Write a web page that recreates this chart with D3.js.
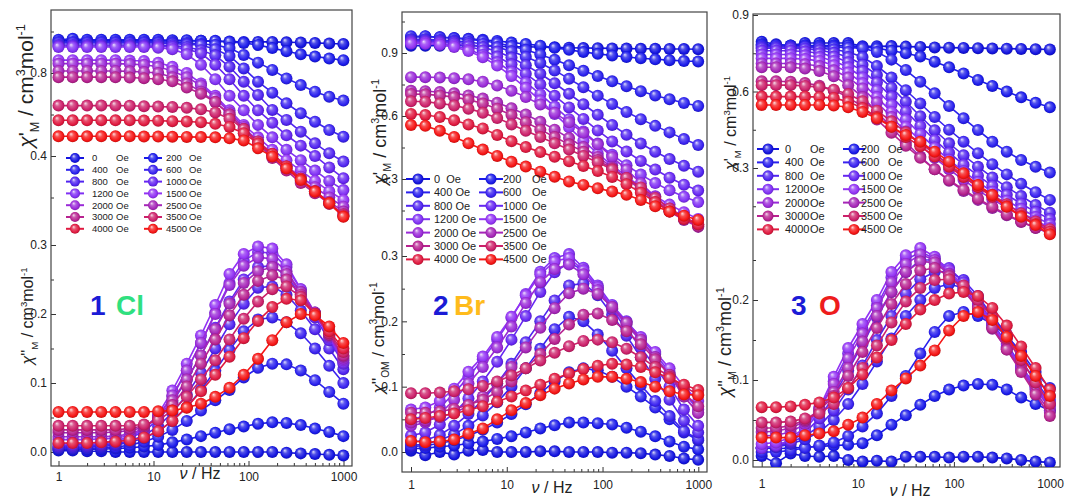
<!DOCTYPE html>
<html><head><meta charset="utf-8">
<script src="https://cdn.jsdelivr.net/npm/d3@7"></script>
<style>
body{margin:0;background:#fff}
svg{display:block}
text{font-family:"Liberation Sans",Arial,sans-serif}
</style>
</head><body>
<svg id="chart" width="1065" height="501"></svg>
<script>
// ---------------- DATA ----------------
const freq = [1, 1.41, 2, 2.82, 3.98, 5.62, 7.94, 11.2, 15.8, 22.4, 31.6, 44.7, 63.1, 89.1, 126, 178, 251, 355, 501, 708, 997];
const fields = [0, 200, 400, 600, 800, 1000, 1200, 1500, 2000, 2500, 3000, 3500, 4000, 4500];
const seriesColors = ["#1414e0","#1a1aea","#2a20ee","#3a22f0","#5024f0","#6626f2","#8030f4","#9232f4","#9a2ad8","#a626b8","#b82290","#cc206a","#e01a40","#f51515"];
const xTicks = [1, 10, 100, 1000];
const xMinorTicks = [2,3,4,5,6,7,8,9,20,30,40,50,60,70,80,90,200,300,400,500,600,700,800,900];
const clUpperTicks = [0.4, 0.8], clUpperMinor = [0.2, 0.6, 1.0];
const clLowerTicks = [0, 0.1, 0.2, 0.3], clLowerMinor = [0.05, 0.15, 0.25];
const brUpperTicks = [0.3, 0.6, 0.9], brUpperMinor = [0.15, 0.45, 0.75, 1.05];
const brLowerTicks = [0, 0.1, 0.2, 0.3], brLowerMinor = [0.05, 0.15, 0.25];
const oUpperTicks = [0.3, 0.6, 0.9], oUpperMinor = [0.15, 0.45, 0.75];
const oLowerTicks = [0, 0.1, 0.2], oLowerMinor = [0.05, 0.15, 0.25];

// Compound 1 (Cl): chi' (one row per field)
const clReal = [
 [0.955,0.96,0.955,0.955,0.955,0.955,0.955,0.955,0.955,0.955,0.955,0.952,0.952,0.95,0.95,0.95,0.948,0.947,0.945,0.942,0.94],
 [0.96,0.965,0.96,0.96,0.96,0.96,0.96,0.96,0.958,0.958,0.955,0.955,0.95,0.945,0.935,0.92,0.905,0.89,0.88,0.87,0.862],
 [0.95,0.95,0.95,0.95,0.95,0.95,0.95,0.95,0.948,0.945,0.94,0.935,0.92,0.887,0.85,0.815,0.774,0.742,0.71,0.686,0.667],
 [0.945,0.945,0.945,0.945,0.945,0.945,0.945,0.945,0.942,0.938,0.935,0.915,0.882,0.822,0.758,0.705,0.654,0.606,0.565,0.525,0.493],
 [0.935,0.935,0.935,0.935,0.935,0.935,0.935,0.935,0.932,0.925,0.91,0.885,0.83,0.758,0.694,0.622,0.574,0.517,0.461,0.413,0.373],
 [0.93,0.93,0.93,0.93,0.93,0.93,0.93,0.928,0.925,0.915,0.895,0.84,0.77,0.69,0.62,0.56,0.5,0.45,0.4,0.345,0.293],
 [0.925,0.925,0.925,0.925,0.925,0.925,0.925,0.922,0.915,0.89,0.84,0.77,0.69,0.62,0.55,0.49,0.43,0.38,0.33,0.28,0.236],
 [0.862,0.862,0.862,0.862,0.862,0.86,0.858,0.85,0.83,0.8,0.75,0.69,0.62,0.55,0.49,0.43,0.38,0.33,0.28,0.23,0.188],
 [0.845,0.845,0.845,0.845,0.845,0.843,0.84,0.83,0.81,0.78,0.74,0.68,0.61,0.54,0.47,0.41,0.35,0.3,0.25,0.2,0.156],
 [0.81,0.81,0.81,0.81,0.81,0.808,0.805,0.8,0.78,0.75,0.71,0.66,0.6,0.53,0.46,0.4,0.34,0.28,0.23,0.18,0.132],
 [0.78,0.78,0.78,0.78,0.78,0.778,0.775,0.77,0.76,0.73,0.7,0.66,0.6,0.53,0.46,0.39,0.33,0.27,0.22,0.17,0.12],
 [0.643,0.643,0.643,0.643,0.643,0.642,0.64,0.638,0.636,0.632,0.625,0.61,0.58,0.53,0.47,0.41,0.35,0.29,0.23,0.17,0.115],
 [0.572,0.572,0.572,0.572,0.572,0.572,0.571,0.57,0.568,0.566,0.563,0.555,0.54,0.51,0.46,0.41,0.35,0.29,0.23,0.175,0.11],
 [0.495,0.495,0.495,0.495,0.495,0.495,0.494,0.494,0.493,0.492,0.491,0.49,0.485,0.475,0.437,0.397,0.34,0.284,0.228,0.172,0.107]
];
// Compound 1 (Cl): chi''
const clImag = [
 [0.002,0.002,0.001,0.001,0.0,0.0,0.0,0.0,0.0,0.0,0.0,0.0,0.0,0.0,0.0,0.0,-0.001,-0.002,-0.003,-0.004,-0.005],
 [0.004,0.004,0.004,0.004,0.005,0.006,0.008,0.01,0.014,0.018,0.023,0.028,0.033,0.037,0.041,0.043,0.042,0.039,0.034,0.029,0.023],
 [0.005,0.005,0.005,0.006,0.007,0.01,0.015,0.022,0.032,0.045,0.06,0.075,0.09,0.108,0.122,0.128,0.127,0.118,0.104,0.087,0.07],
 [0.006,0.006,0.007,0.008,0.01,0.014,0.02,0.03,0.045,0.065,0.09,0.118,0.148,0.175,0.192,0.195,0.188,0.172,0.15,0.125,0.1],
 [0.008,0.008,0.009,0.01,0.012,0.016,0.024,0.037,0.057,0.083,0.115,0.15,0.185,0.215,0.238,0.24,0.228,0.205,0.178,0.15,0.12],
 [0.01,0.01,0.011,0.012,0.014,0.02,0.03,0.047,0.072,0.105,0.14,0.18,0.218,0.25,0.268,0.27,0.255,0.228,0.195,0.162,0.128],
 [0.012,0.012,0.013,0.014,0.016,0.022,0.033,0.052,0.08,0.118,0.158,0.202,0.245,0.277,0.29,0.288,0.268,0.236,0.2,0.166,0.13],
 [0.018,0.018,0.018,0.019,0.02,0.024,0.032,0.055,0.089,0.128,0.169,0.213,0.258,0.287,0.298,0.295,0.272,0.236,0.202,0.168,0.133],
 [0.022,0.022,0.022,0.022,0.023,0.026,0.034,0.052,0.082,0.118,0.158,0.2,0.242,0.27,0.282,0.28,0.262,0.232,0.2,0.168,0.135],
 [0.028,0.028,0.028,0.028,0.029,0.031,0.036,0.05,0.075,0.105,0.14,0.178,0.215,0.245,0.262,0.268,0.258,0.232,0.202,0.17,0.138],
 [0.032,0.032,0.032,0.032,0.032,0.034,0.038,0.048,0.068,0.095,0.128,0.163,0.198,0.228,0.248,0.256,0.25,0.228,0.2,0.17,0.14],
 [0.038,0.038,0.038,0.038,0.038,0.038,0.04,0.046,0.06,0.08,0.105,0.133,0.163,0.193,0.218,0.236,0.24,0.225,0.2,0.172,0.145],
 [0.013,0.013,0.013,0.014,0.015,0.017,0.021,0.03,0.045,0.065,0.088,0.112,0.138,0.165,0.19,0.21,0.222,0.22,0.2,0.175,0.15],
 [0.058,0.058,0.058,0.058,0.058,0.058,0.058,0.059,0.06,0.064,0.07,0.08,0.093,0.112,0.135,0.162,0.188,0.2,0.198,0.182,0.158]
];
// Compound 2 (Br): chi'
const brReal = [
 [0.935,0.935,0.935,0.935,0.935,0.933,0.932,0.93,0.93,0.928,0.927,0.925,0.924,0.923,0.922,0.921,0.92,0.92,0.919,0.919,0.918],
 [0.975,0.978,0.975,0.972,0.968,0.963,0.957,0.95,0.943,0.935,0.925,0.915,0.905,0.896,0.888,0.881,0.875,0.87,0.866,0.862,0.86],
 [0.98,0.98,0.975,0.97,0.965,0.958,0.948,0.933,0.915,0.893,0.868,0.842,0.815,0.79,0.765,0.742,0.718,0.698,0.68,0.662,0.648],
 [0.965,0.965,0.962,0.958,0.952,0.943,0.928,0.908,0.882,0.852,0.817,0.777,0.737,0.697,0.657,0.619,0.585,0.553,0.522,0.49,0.462],
 [0.96,0.96,0.957,0.952,0.943,0.928,0.907,0.878,0.842,0.801,0.756,0.706,0.656,0.606,0.557,0.511,0.469,0.43,0.395,0.363,0.335],
 [0.955,0.955,0.952,0.945,0.932,0.912,0.883,0.846,0.801,0.751,0.696,0.641,0.586,0.531,0.479,0.431,0.386,0.345,0.306,0.273,0.245],
 [0.95,0.95,0.946,0.936,0.917,0.891,0.856,0.811,0.76,0.704,0.645,0.585,0.526,0.469,0.415,0.366,0.321,0.281,0.246,0.216,0.19],
 [0.945,0.944,0.939,0.929,0.909,0.88,0.84,0.79,0.734,0.674,0.61,0.546,0.482,0.421,0.365,0.312,0.262,0.218,0.178,0.142,0.11],
 [0.785,0.785,0.783,0.78,0.775,0.763,0.745,0.72,0.69,0.655,0.615,0.57,0.52,0.465,0.405,0.345,0.28,0.215,0.16,0.115,0.08],
 [0.72,0.718,0.714,0.708,0.698,0.683,0.663,0.637,0.607,0.573,0.535,0.495,0.452,0.405,0.355,0.302,0.248,0.193,0.145,0.105,0.072],
 [0.705,0.703,0.698,0.69,0.678,0.66,0.635,0.605,0.57,0.535,0.5,0.465,0.43,0.39,0.35,0.305,0.255,0.2,0.15,0.11,0.075],
 [0.67,0.668,0.66,0.65,0.635,0.615,0.59,0.56,0.53,0.5,0.47,0.44,0.41,0.38,0.345,0.305,0.26,0.21,0.16,0.12,0.085],
 [0.61,0.605,0.595,0.58,0.56,0.541,0.51,0.48,0.452,0.428,0.406,0.385,0.362,0.338,0.31,0.275,0.235,0.19,0.145,0.11,0.085],
 [0.557,0.553,0.53,0.5,0.47,0.44,0.41,0.382,0.359,0.335,0.311,0.288,0.272,0.256,0.24,0.225,0.2,0.17,0.145,0.125,0.105]
];
// Compound 2 (Br): chi''
const brImag = [
 [0.002,-0.005,0.0,-0.004,0.002,0.003,0.0,0.0,0.0,0.001,0.001,0.0,0.0,0.0,-0.001,-0.001,-0.002,-0.004,-0.006,-0.01,-0.012],
 [0.005,0.006,0.008,0.01,0.013,0.016,0.02,0.024,0.03,0.036,0.041,0.045,0.045,0.044,0.042,0.037,0.031,0.024,0.016,0.008,0.004],
 [0.008,0.01,0.013,0.018,0.025,0.034,0.045,0.058,0.073,0.09,0.108,0.122,0.128,0.125,0.115,0.1,0.085,0.068,0.05,0.03,0.018],
 [0.01,0.012,0.018,0.027,0.04,0.056,0.076,0.1,0.128,0.158,0.188,0.207,0.2,0.18,0.155,0.128,0.102,0.078,0.055,0.032,0.02],
 [0.015,0.018,0.026,0.04,0.058,0.08,0.105,0.135,0.168,0.2,0.232,0.255,0.258,0.24,0.21,0.178,0.145,0.112,0.08,0.048,0.03],
 [0.025,0.03,0.042,0.06,0.082,0.108,0.138,0.172,0.208,0.245,0.275,0.29,0.278,0.25,0.218,0.188,0.16,0.13,0.1,0.065,0.04],
 [0.05,0.055,0.068,0.09,0.115,0.142,0.172,0.205,0.242,0.276,0.297,0.303,0.282,0.255,0.225,0.2,0.175,0.15,0.122,0.09,0.065],
 [0.065,0.068,0.078,0.097,0.123,0.146,0.176,0.207,0.24,0.272,0.292,0.297,0.278,0.252,0.222,0.199,0.176,0.153,0.128,0.1,0.078],
 [0.04,0.045,0.058,0.08,0.105,0.13,0.16,0.192,0.228,0.26,0.28,0.287,0.272,0.248,0.22,0.195,0.17,0.145,0.118,0.085,0.06],
 [0.045,0.048,0.053,0.06,0.07,0.085,0.105,0.13,0.16,0.19,0.22,0.243,0.25,0.242,0.222,0.198,0.172,0.145,0.118,0.085,0.06],
 [0.06,0.06,0.062,0.066,0.072,0.08,0.092,0.108,0.128,0.15,0.173,0.195,0.21,0.212,0.202,0.185,0.165,0.142,0.118,0.09,0.07],
 [0.09,0.09,0.091,0.093,0.096,0.101,0.108,0.117,0.128,0.14,0.152,0.162,0.17,0.172,0.168,0.158,0.145,0.13,0.115,0.1,0.088],
 [0.05,0.052,0.055,0.059,0.064,0.07,0.077,0.085,0.094,0.103,0.112,0.12,0.127,0.132,0.135,0.134,0.13,0.122,0.113,0.103,0.095],
 [0.017,0.015,0.016,0.019,0.028,0.036,0.05,0.064,0.075,0.087,0.097,0.105,0.111,0.115,0.115,0.112,0.107,0.1,0.093,0.088,0.087]
];
// Compound 3 (O): chi'
const oReal = [
 [0.795,0.785,0.78,0.79,0.79,0.79,0.79,0.777,0.777,0.778,0.776,0.775,0.773,0.772,0.771,0.77,0.769,0.768,0.767,0.766,0.765],
 [0.785,0.78,0.78,0.78,0.78,0.78,0.78,0.775,0.77,0.76,0.75,0.737,0.717,0.695,0.671,0.645,0.622,0.6,0.577,0.556,0.538],
 [0.78,0.78,0.775,0.775,0.775,0.775,0.772,0.77,0.755,0.725,0.684,0.638,0.593,0.543,0.495,0.449,0.403,0.364,0.331,0.305,0.282],
 [0.775,0.775,0.775,0.775,0.77,0.765,0.755,0.735,0.7,0.655,0.605,0.553,0.5,0.45,0.403,0.358,0.315,0.275,0.238,0.205,0.175],
 [0.77,0.77,0.77,0.768,0.762,0.752,0.735,0.705,0.665,0.615,0.56,0.503,0.448,0.397,0.35,0.305,0.263,0.225,0.19,0.155,0.125],
 [0.76,0.76,0.76,0.757,0.75,0.737,0.715,0.68,0.635,0.58,0.522,0.465,0.41,0.36,0.313,0.27,0.23,0.195,0.16,0.128,0.1],
 [0.745,0.745,0.745,0.742,0.735,0.72,0.695,0.655,0.605,0.548,0.49,0.433,0.38,0.332,0.287,0.245,0.207,0.172,0.14,0.108,0.08],
 [0.73,0.73,0.73,0.727,0.72,0.703,0.675,0.632,0.578,0.52,0.462,0.407,0.357,0.31,0.267,0.227,0.19,0.157,0.125,0.095,0.065],
 [0.71,0.71,0.71,0.707,0.7,0.683,0.655,0.612,0.558,0.5,0.443,0.39,0.34,0.295,0.253,0.213,0.177,0.145,0.113,0.083,0.055],
 [0.695,0.695,0.695,0.69,0.68,0.66,0.625,0.578,0.52,0.46,0.4,0.345,0.295,0.25,0.21,0.175,0.143,0.115,0.088,0.065,0.045],
 [0.64,0.64,0.638,0.633,0.623,0.605,0.578,0.54,0.49,0.438,0.387,0.34,0.295,0.253,0.215,0.18,0.148,0.118,0.09,0.066,0.045],
 [0.625,0.625,0.625,0.622,0.617,0.607,0.59,0.562,0.525,0.483,0.44,0.398,0.355,0.313,0.272,0.232,0.195,0.158,0.122,0.09,0.06],
 [0.58,0.58,0.58,0.58,0.578,0.575,0.56,0.535,0.5,0.462,0.422,0.385,0.345,0.305,0.265,0.225,0.187,0.15,0.113,0.08,0.05],
 [0.547,0.547,0.547,0.547,0.547,0.545,0.538,0.52,0.495,0.462,0.429,0.403,0.364,0.325,0.279,0.233,0.194,0.148,0.109,0.076,0.04]
];
// Compound 3 (O): chi''
const oImag = [
 [0.005,-0.004,0.008,0.005,0.004,0.005,0.0,-0.002,-0.001,-0.002,0.004,0.004,0.004,0.003,0.004,0.004,0.003,0.002,0.0,-0.002,-0.003],
 [0.015,0.014,0.015,0.016,0.017,0.018,0.019,0.021,0.031,0.044,0.056,0.069,0.08,0.088,0.093,0.095,0.094,0.088,0.078,0.07,0.062],
 [0.01,0.01,0.012,0.015,0.018,0.022,0.03,0.042,0.058,0.08,0.105,0.133,0.16,0.18,0.185,0.18,0.17,0.155,0.135,0.11,0.09],
 [0.015,0.016,0.02,0.026,0.035,0.05,0.07,0.095,0.123,0.152,0.18,0.2,0.215,0.22,0.215,0.2,0.18,0.157,0.132,0.105,0.08],
 [0.015,0.017,0.022,0.03,0.042,0.062,0.088,0.118,0.15,0.18,0.208,0.226,0.235,0.236,0.225,0.205,0.18,0.153,0.125,0.098,0.075],
 [0.015,0.018,0.024,0.034,0.052,0.08,0.112,0.145,0.178,0.21,0.235,0.25,0.25,0.24,0.222,0.2,0.172,0.145,0.118,0.092,0.07],
 [0.015,0.018,0.025,0.038,0.06,0.098,0.133,0.163,0.193,0.228,0.25,0.26,0.252,0.235,0.215,0.195,0.168,0.14,0.115,0.09,0.068],
 [0.02,0.022,0.028,0.04,0.065,0.104,0.14,0.17,0.2,0.235,0.256,0.265,0.254,0.237,0.217,0.198,0.17,0.142,0.117,0.092,0.07],
 [0.03,0.031,0.035,0.045,0.065,0.095,0.127,0.158,0.19,0.222,0.245,0.257,0.25,0.233,0.213,0.192,0.166,0.14,0.114,0.088,0.065],
 [0.035,0.036,0.04,0.048,0.062,0.085,0.115,0.148,0.18,0.21,0.235,0.248,0.247,0.232,0.212,0.19,0.164,0.138,0.112,0.085,0.06],
 [0.04,0.04,0.043,0.05,0.062,0.08,0.105,0.135,0.165,0.195,0.22,0.237,0.24,0.23,0.212,0.19,0.165,0.138,0.11,0.082,0.055],
 [0.047,0.047,0.048,0.052,0.058,0.07,0.09,0.115,0.143,0.172,0.198,0.215,0.225,0.226,0.218,0.2,0.178,0.152,0.125,0.097,0.07],
 [0.066,0.066,0.067,0.069,0.072,0.078,0.09,0.107,0.128,0.15,0.17,0.188,0.2,0.208,0.21,0.205,0.19,0.168,0.142,0.115,0.088],
 [0.028,0.028,0.028,0.031,0.033,0.036,0.044,0.053,0.07,0.087,0.102,0.118,0.137,0.162,0.18,0.185,0.175,0.154,0.13,0.105,0.08]
];

// ---------------- LAYOUT ----------------
const panels = [
 { real: clReal, imag: clImag, frame: [51, 352, 10, 466], xRange: [58.5, 343.5],
   up: { dom: [0.4, 0.8], rng: [156, 73], major: clUpperTicks, minor: clUpperMinor },
   lo: { dom: [0, 0.3], rng: [452, 245], major: clLowerTicks, minor: clLowerMinor },
   xPad: 6, xTitle: [200, 479],
   yTitles: [{x: 33, y: 86, fs: 21, p: "'", sub: "M"}, {x: 33, y: 316, fs: 16, p: "''", sub: "M"}],
   legend: { y0: 158, dy: 11.8, mx: [75, 153], half: 9, tx: [92, 166], oe: [116, 189], fs: 9.5, r: 5 },
   tag: { num: "1", nx: 90, name: "Cl", cx: 116, col: "#2fe07f", y: 315 } },
 { real: brReal, imag: brImag, frame: [402, 707, 12, 472], xRange: [411, 698.3],
   up: { dom: [0.3, 0.9], rng: [179, 53], major: brUpperTicks, minor: brUpperMinor },
   lo: { dom: [0, 0.3], rng: [452, 256], major: brLowerTicks, minor: brLowerMinor },
   xPad: 8, xTitle: [552, 493],
   yTitles: [{x: 386, y: 132, fs: 18, p: "'", sub: "M"}, {x: 384, y: 338, fs: 17, p: "''", sub: "OM"}],
   legend: { y0: 179, dy: 13.4, mx: [418, 491], half: 12, tx: [434, 503], oe: [null, 532], fs: 11, r: 5.5 },
   tag: { num: "2", nx: 433, name: "Br", cx: 454, col: "#ffbb1c", y: 315 } },
 { real: oReal, imag: oImag, frame: [753, 1060, 14, 467], xRange: [761.7, 1050],
   up: { dom: [0.3, 0.9], rng: [168, 15], major: oUpperTicks, minor: oUpperMinor },
   lo: { dom: [0, 0.2], rng: [460, 300], major: oLowerTicks, minor: oLowerMinor },
   xPad: 12, xTitle: [910, 496],
   yTitles: [{x: 736, y: 123, fs: 16, p: "'", sub: "M"}, {x: 731, y: 342, fs: 18, p: "''", sub: "M"}],
   legend: { y0: 149, dy: 13.4, mx: [768, 854], half: 11, tx: [785, 861], oe: [810, 888], fs: 11, r: 5.5 },
   tag: { num: "3", nx: 791, name: "O", cx: 819, col: "#ee1c1c", y: 315 } }
];

// ---------------- DRAW ----------------
const svg = d3.select("#chart");
const defs = svg.append("defs");
seriesColors.forEach((c, k) => {
  const g = defs.append("radialGradient").attr("id", "ball" + k)
    .attr("cx", "0.5").attr("cy", "0.5").attr("r", "0.55").attr("fx", "0.35").attr("fy", "0.3");
  g.append("stop").attr("offset", "0%").attr("stop-color", d3.interpolateRgb(c, "#ffffff")(0.85));
  g.append("stop").attr("offset", "35%").attr("stop-color", d3.interpolateRgb(c, "#ffffff")(0.25));
  g.append("stop").attr("offset", "75%").attr("stop-color", c);
  g.append("stop").attr("offset", "100%").attr("stop-color", d3.color(c).darker(0.9).formatHex());
});

function styleAxis(sel, fs) {
  sel.select(".domain").remove();
  sel.selectAll("line").attr("stroke", "#333").attr("stroke-width", 1);
  sel.selectAll("text").attr("fill", "#222").style("font-size", fs + "px").style("font-family", '"Liberation Sans", Arial, sans-serif');
}

panels.forEach(p => {
  const [fx0, fx1, fy0, fy1] = p.frame;
  const g = svg.append("g");
  const x = d3.scaleLog().domain([1, 1000]).range(p.xRange);
  const yU = d3.scaleLinear().domain(p.up.dom).range(p.up.rng);
  const yL = d3.scaleLinear().domain(p.lo.dom).range(p.lo.rng);

  // axes
  const fmt = d3.format(".1f");
  g.append("g").attr("transform", `translate(${fx0},0)`)
    .call(d3.axisLeft(yU).tickValues(p.up.major).tickSize(-5).tickPadding(4).tickFormat(fmt)).call(s => styleAxis(s, 12));
  g.append("g").attr("transform", `translate(${fx0},0)`)
    .call(d3.axisLeft(yU).tickValues(p.up.minor).tickSize(-3).tickFormat("")).call(s => styleAxis(s, 12));
  g.append("g").attr("transform", `translate(${fx0},0)`)
    .call(d3.axisLeft(yL).tickValues(p.lo.major).tickSize(-5).tickPadding(4).tickFormat(fmt)).call(s => styleAxis(s, 12));
  g.append("g").attr("transform", `translate(${fx0},0)`)
    .call(d3.axisLeft(yL).tickValues(p.lo.minor).tickSize(-3).tickFormat("")).call(s => styleAxis(s, 12));
  g.append("g").attr("transform", `translate(0,${fy1})`)
    .call(d3.axisBottom(x).tickValues(xTicks).tickSize(-5).tickPadding(p.xPad).tickFormat(d3.format("d"))).call(s => styleAxis(s, 12));
  g.append("g").attr("transform", `translate(0,${fy1})`)
    .call(d3.axisBottom(x).tickValues(xMinorTicks).tickSize(-3).tickFormat("")).call(s => styleAxis(s, 12));

  // frame
  g.append("rect").attr("x", fx0).attr("y", fy0).attr("width", fx1 - fx0).attr("height", fy1 - fy0)
    .attr("fill", "none").attr("stroke", "#444").attr("stroke-width", 1.2);

  // series
  const clipId = "clip" + fx0;
  defs.append("clipPath").attr("id", clipId).append("rect")
    .attr("x", fx0).attr("y", fy0).attr("width", fx1 - fx0).attr("height", fy1 - fy0);
  const plot = g.append("g").attr("clip-path", `url(#${clipId})`);
  const drawSet = (rows, y) => {
    rows.forEach((vals, k) => {
      const pts = vals.map((v, i) => [x(freq[i]), y(v)]);
      const sg = plot.append("g");
      sg.append("path").attr("d", d3.line()(pts)).attr("fill", "none")
        .attr("stroke", seriesColors[k]).attr("stroke-width", 1.6);
      sg.selectAll("circle").data(pts).enter().append("circle")
        .attr("cx", d => d[0]).attr("cy", d => d[1]).attr("r", 6)
        .attr("fill", `url(#ball${k})`);
    });
  };
  drawSet(p.imag, yL);
  drawSet(p.real, yU);

  // legend
  const L = p.legend;
  fields.forEach((f, k) => {
    const col = k % 2, row = Math.floor(k / 2);
    const cy = L.y0 + row * L.dy, mx = L.mx[col];
    g.append("line").attr("x1", mx - L.half).attr("x2", mx + L.half).attr("y1", cy).attr("y2", cy)
      .attr("stroke", seriesColors[k]).attr("stroke-width", 2);
    g.append("circle").attr("cx", mx).attr("cy", cy).attr("r", L.r).attr("fill", `url(#ball${k})`);
    if (L.oe[col] === null) {
      g.append("text").attr("x", L.tx[col]).attr("y", cy).attr("dy", "0.36em")
        .style("font-size", L.fs + "px").style("white-space", "pre").attr("fill", "#222")
        .text(f === 0 ? "0  Oe" : f + " Oe");
    } else {
      g.append("text").attr("x", L.tx[col]).attr("y", cy).attr("dy", "0.36em")
        .style("font-size", L.fs + "px").attr("fill", "#222").text(f);
      g.append("text").attr("x", L.oe[col]).attr("y", cy).attr("dy", "0.36em")
        .style("font-size", L.fs + "px").attr("fill", "#222").text("Oe");
    }
  });

  // compound tag
  g.append("text").attr("x", p.tag.nx).attr("y", p.tag.y).style("font-size", "28px").style("font-weight", "bold")
    .attr("fill", "#1b1bd6").text(p.tag.num);
  g.append("text").attr("x", p.tag.cx).attr("y", p.tag.y).style("font-size", "28px").style("font-weight", "bold")
    .attr("fill", p.tag.col).text(p.tag.name);

  // x title
  const xt = g.append("text").attr("x", p.xTitle[0]).attr("y", p.xTitle[1]).attr("text-anchor", "middle")
    .style("font-size", "16px").attr("fill", "#222");
  xt.append("tspan").style("font-style", "italic").text("ν");
  xt.append("tspan").text(" / Hz");

  // y titles
  p.yTitles.forEach(t => {
    const fs = t.fs;
    const tx = g.append("text").attr("transform", `translate(${t.x},${t.y}) rotate(-90)`)
      .attr("text-anchor", "middle").style("font-size", fs + "px").attr("fill", "#222");
    tx.append("tspan").style("font-style", "italic").text("χ");
    tx.append("tspan").text(t.p);
    tx.append("tspan").attr("dy", fs * 0.3).style("font-size", (fs * 0.6) + "px").text(t.sub);
    tx.append("tspan").attr("dy", -fs * 0.3).text(" / cm");
    tx.append("tspan").attr("dy", -fs * 0.4).style("font-size", (fs * 0.6) + "px").text("3");
    tx.append("tspan").attr("dy", fs * 0.4).text("mol");
    tx.append("tspan").attr("dy", -fs * 0.4).style("font-size", (fs * 0.6) + "px").text("-1");
  });
});
</script>
</body></html>
